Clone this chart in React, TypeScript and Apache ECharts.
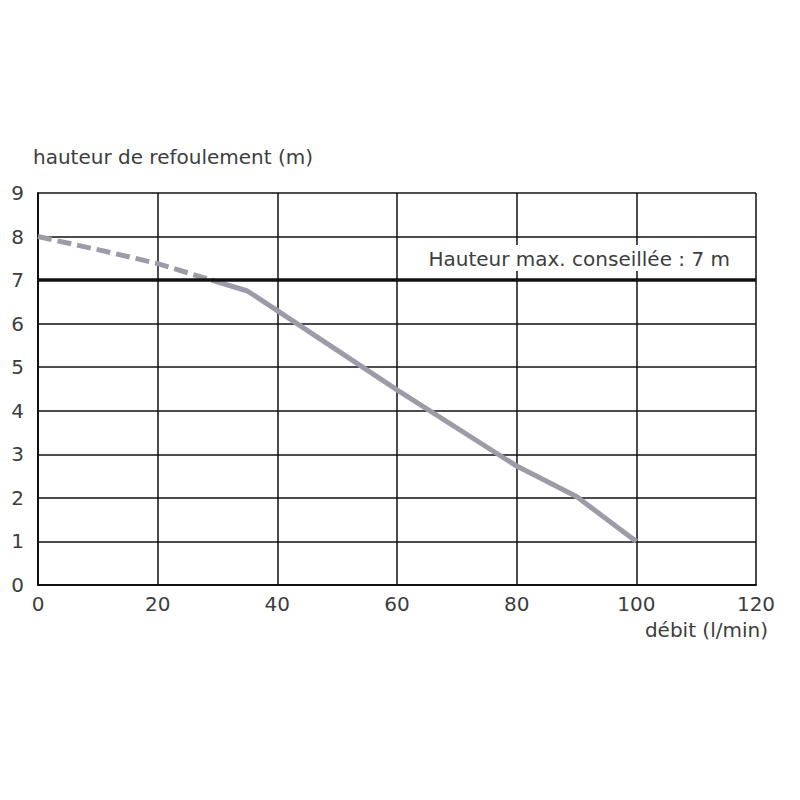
import React, { useEffect, useRef } from "react";
import * as echarts from "echarts";

const xTicks = [0, 20, 40, 60, 80, 100, 120];
const dashedCurve: [number, number][] = [[0, 8], [10, 7.7], [20, 7.38], [29, 7.0]];
const solidCurve: [number, number][] = [[29, 7.0], [35, 6.75], [40, 6.3], [60, 4.48], [80, 2.73], [90, 2.03], [100, 1.0]];
const maxHeight = 7;
const maxLabel = "Hauteur max. conseillée : 7 m";
const yName = "hauteur de refoulement (m)";
const xName = "débit (l/min)";

const FONT = "'DejaVu Sans', sans-serif";
const TXT = "#3d3d3d";
const FS = 20;

export default function App() {
  const ref = useRef<HTMLDivElement>(null);
  useEffect(() => {
    if (!ref.current) return;
    const chart = echarts.init(ref.current, null, { renderer: "svg" });
    chart.setOption({
      animation: false,
      backgroundColor: "#fff",
      grid: { left: 38, right: 44, top: 193, bottom: 215, containLabel: false },
      xAxis: {
        type: "value",
        min: xTicks[0],
        max: xTicks[xTicks.length - 1],
        interval: 20,
        name: xName,
        nameLocation: "end",
        nameGap: 12,
        nameTextStyle: { color: TXT, fontSize: FS, fontFamily: FONT, align: "right", verticalAlign: "top", padding: [35, 0, 0, 0] },
        axisLine: { show: true, lineStyle: { color: "#111", width: 2 } },
        axisTick: { show: false },
        axisLabel: { color: TXT, fontSize: FS, fontFamily: FONT, margin: 9 },
        splitLine: { show: true, lineStyle: { color: "#111", width: 1.5 } },
      },
      yAxis: {
        type: "value",
        min: 0,
        max: 9,
        interval: 1,
        name: yName,
        nameLocation: "end",
        nameGap: 36,
        nameTextStyle: { color: TXT, fontSize: FS, fontFamily: FONT, align: "left", verticalAlign: "middle", padding: [0, 0, 0, -5] },
        axisLine: { show: true, lineStyle: { color: "#111", width: 2 } },
        axisTick: { show: false },
        axisLabel: { color: TXT, fontSize: FS, fontFamily: FONT, margin: 14 },
        splitLine: { show: true, lineStyle: { color: "#111", width: 1.5 } },
      },
      series: [
        {
          type: "line",
          data: dashedCurve,
          symbol: "none",
          lineStyle: { color: "#9c9ba8", width: 5, type: [14, 6] },
          z: 3,
        },
        {
          type: "line",
          data: solidCurve,
          symbol: "none",
          lineStyle: { color: "#9c9ba8", width: 5 },
          z: 3,
          markLine: {
            silent: true,
            symbol: "none",
            lineStyle: { color: "#111", width: 3.5, type: "solid" },
            label: {
              show: true,
              position: "insideEndTop",
              formatter: maxLabel,
              color: TXT,
              fontSize: FS,
              fontFamily: FONT,
              backgroundColor: "#fff",
              padding: [4, 2, 2, 4],
              distance: [24, 9],
            },
            data: [{ yAxis: maxHeight }],
          },
        },
      ],
    });
    return () => chart.dispose();
  }, []);
  return <div ref={ref} style={{ width: 800, height: 800, position: "absolute", left: 0, top: 0 }} />;
}
